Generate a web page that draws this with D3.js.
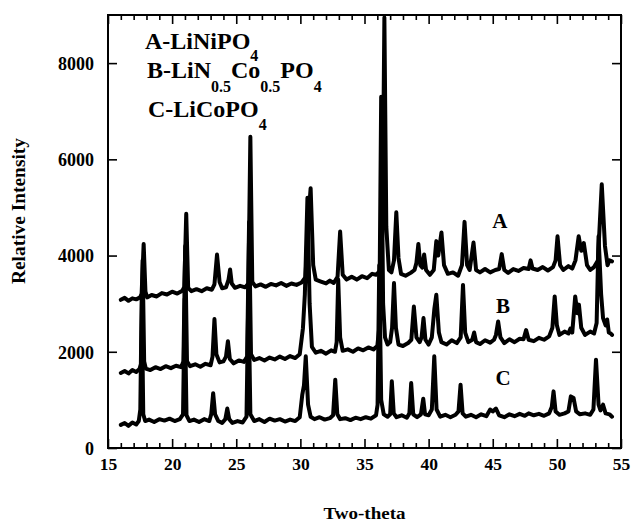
<!DOCTYPE html>
<html><head><meta charset="utf-8">
<script src="https://cdn.jsdelivr.net/npm/d3@7"></script>
<style>
body{margin:0;background:#fff;}
svg text{font-family:"Liberation Serif","Times New Roman",serif;font-weight:bold;fill:#000;}
</style></head>
<body>
<svg id="chart" width="632" height="524"></svg>
<script>
// ---- data (two-theta, intensity) ----
const xTicks = [15,20,25,30,35,40,45,50,55];
const yTicks = [0,2000,4000,6000,8000];
const seriesNames = ["A","B","C"];

const traceA = [[16.0,3080],[16.3,3120],[16.6,3060],[16.9,3110],[17.2,3090],[17.5,3130],[17.62,3200],[17.78,4240],[17.92,3250],[18.05,3130],[18.4,3180],[18.8,3150],[19.2,3220],[19.6,3190],[20.0,3250],[20.4,3210],[20.8,3270],[20.95,3350],[21.1,4870],[21.25,3330],[21.5,3260],[21.9,3300],[22.3,3260],[22.7,3320],[23.1,3290],[23.3,3400],[23.5,4020],[23.7,3450],[23.9,3320],[24.2,3340],[24.4,3500],[24.52,3710],[24.65,3420],[24.9,3330],[25.3,3370],[25.7,3340],[25.95,3420],[26.1,6470],[26.25,3450],[26.5,3360],[26.9,3400],[27.3,3350],[27.7,3410],[28.1,3380],[28.5,3430],[28.9,3370],[29.3,3420],[29.7,3390],[30.1,3440],[30.4,3550],[30.6,4700],[30.8,5400],[31.0,3800],[31.2,3500],[31.6,3460],[32.0,3420],[32.3,3480],[32.6,3430],[32.9,3560],[33.1,4500],[33.3,3600],[33.6,3500],[34.0,3560],[34.4,3500],[34.8,3570],[35.2,3530],[35.6,3620],[35.9,3600],[36.2,3680],[36.4,4500],[36.55,8950],[36.7,4600],[36.9,3700],[37.1,3650],[37.3,3900],[37.48,4900],[37.65,3950],[37.85,3620],[38.2,3580],[38.6,3640],[38.9,3700],[39.05,3850],[39.2,4240],[39.35,3800],[39.5,3750],[39.65,4020],[39.8,3700],[40.1,3600],[40.4,3700],[40.6,4300],[40.75,4000],[41.0,4480],[41.2,3800],[41.5,3620],[41.9,3650],[42.3,3580],[42.6,3800],[42.8,4700],[43.0,3800],[43.2,3700],[43.5,4270],[43.7,3700],[44.0,3650],[44.4,3720],[44.8,3650],[45.2,3700],[45.5,3720],[45.7,4030],[45.9,3700],[46.2,3640],[46.6,3720],[47.0,3680],[47.4,3740],[47.8,3720],[47.95,3900],[48.1,3730],[48.5,3700],[48.9,3760],[49.3,3690],[49.7,3760],[49.9,3900],[50.05,4400],[50.25,3800],[50.5,3700],[50.9,3780],[51.2,3730],[51.45,3900],[51.7,4400],[51.9,4100],[52.1,4260],[52.35,3800],[52.6,3700],[52.9,3760],[53.2,3900],[53.5,5480],[53.75,4200],[53.95,3800],[54.1,3900],[54.3,3880]];

const traceB = [[16.0,1560],[16.3,1600],[16.6,1550],[16.9,1620],[17.2,1580],[17.45,1640],[17.58,1750],[17.7,3900],[17.82,1800],[17.95,1650],[18.3,1620],[18.7,1680],[19.1,1640],[19.5,1700],[19.9,1660],[20.3,1710],[20.7,1680],[20.88,1800],[21.02,4200],[21.16,1800],[21.4,1700],[21.8,1740],[22.2,1690],[22.6,1750],[23.0,1720],[23.15,1900],[23.3,2680],[23.45,1950],[23.7,1780],[24.0,1800],[24.2,1900],[24.35,2220],[24.5,1850],[24.8,1760],[25.2,1820],[25.6,1790],[25.85,1900],[26.0,4700],[26.15,1950],[26.4,1830],[26.8,1870],[27.2,1820],[27.6,1880],[28.0,1840],[28.4,1900],[28.8,1850],[29.2,1910],[29.6,1870],[29.95,1950],[30.2,2490],[30.35,3200],[30.55,5200],[30.72,3000],[30.9,2100],[31.2,1980],[31.6,2020],[32.0,1960],[32.4,2030],[32.7,2000],[32.83,2200],[32.95,3500],[33.1,2300],[33.3,2020],[33.7,2050],[34.1,2000],[34.5,2070],[34.9,2030],[35.3,2090],[35.7,2050],[36.0,2120],[36.15,2500],[36.3,7300],[36.45,3000],[36.6,2300],[36.8,2150],[37.0,2200],[37.15,2500],[37.3,3430],[37.45,2500],[37.65,2150],[38.0,2120],[38.4,2180],[38.65,2250],[38.85,2940],[39.05,2300],[39.3,2200],[39.45,2300],[39.6,2700],[39.75,2250],[40.0,2150],[40.25,2300],[40.45,2900],[40.6,3185],[40.8,2400],[41.0,2200],[41.4,2150],[41.8,2240],[42.2,2180],[42.5,2300],[42.68,3390],[42.85,2400],[43.1,2200],[43.4,2250],[43.55,2400],[43.7,2200],[44.0,2160],[44.4,2240],[44.8,2190],[45.1,2250],[45.25,2350],[45.42,2630],[45.6,2300],[45.9,2180],[46.3,2260],[46.7,2200],[47.1,2270],[47.4,2260],[47.6,2450],[47.8,2250],[48.2,2220],[48.6,2290],[49.0,2250],[49.4,2320],[49.65,2500],[49.83,3150],[50.0,2550],[50.2,2350],[50.6,2420],[50.9,2380],[51.05,2480],[51.2,2400],[51.43,3150],[51.6,2800],[51.72,2980],[51.9,2500],[52.2,2350],[52.6,2420],[52.9,2380],[53.1,2600],[53.25,4400],[53.45,3200],[53.6,2700],[53.8,2550],[53.92,2670],[54.05,2400],[54.2,2380],[54.3,2350]];

const traceC = [[16.0,480],[16.3,520],[16.6,460],[16.9,530],[17.2,490],[17.4,560],[17.52,800],[17.63,3200],[17.75,700],[17.9,560],[18.2,590],[18.6,540],[19.0,600],[19.4,570],[19.8,610],[20.2,560],[20.6,600],[20.85,700],[20.98,3100],[21.12,680],[21.35,560],[21.7,590],[22.1,540],[22.5,600],[22.9,560],[23.05,700],[23.2,1140],[23.35,700],[23.6,560],[23.9,520],[24.15,600],[24.3,820],[24.45,600],[24.7,520],[25.1,560],[25.5,530],[25.8,650],[25.95,3300],[26.1,700],[26.4,560],[26.8,600],[27.2,540],[27.6,610],[28.0,570],[28.4,600],[28.8,550],[29.2,590],[29.6,560],[29.95,640],[30.15,1110],[30.28,1300],[30.42,1905],[30.6,900],[30.8,650],[31.1,600],[31.5,640],[31.9,590],[32.3,620],[32.55,680],[32.72,1420],[32.88,700],[33.1,600],[33.5,620],[33.9,580],[34.3,630],[34.7,600],[35.1,640],[35.5,610],[35.9,680],[36.02,900],[36.15,3800],[36.3,1000],[36.5,700],[36.8,650],[37.0,700],[37.13,1385],[37.28,720],[37.5,640],[37.9,680],[38.3,630],[38.5,720],[38.64,1350],[38.8,700],[39.1,640],[39.4,700],[39.58,1025],[39.72,700],[40.0,680],[40.25,800],[40.44,1905],[40.62,800],[40.9,650],[41.3,690],[41.7,640],[42.1,690],[42.33,760],[42.49,1316],[42.65,720],[42.9,650],[43.3,690],[43.7,640],[44.1,700],[44.5,660],[44.8,800],[45.0,760],[45.25,820],[45.5,680],[45.9,640],[46.3,700],[46.7,660],[47.1,710],[47.5,670],[47.8,720],[48.2,680],[48.6,710],[49.0,670],[49.4,720],[49.6,850],[49.74,1177],[49.9,760],[50.2,690],[50.6,720],[50.9,760],[51.09,1073],[51.3,1040],[51.5,760],[51.8,700],[52.2,720],[52.6,690],[52.85,800],[53.05,1835],[53.25,900],[53.4,780],[53.6,900],[53.8,720],[54.1,700],[54.3,650]];

const labelPos = [[45.55,4580],[45.8,2810],[45.8,1310]]; // where series letters sit (data coords)

// ---- drawing ----
const svg = d3.select("#chart");
const L = 108, R = 621, T = 15, B = 448;
const x = d3.scaleLinear().domain([15,55]).range([L,R]);
const y = d3.scaleLinear().domain([0,9000]).range([B,T]);

const line = d3.line().x(d=>x(d[0])).y(d=>y(d[1]));
[traceA,traceB,traceC].forEach(tr=>{
  svg.append("path").attr("d", line(tr)).attr("fill","none")
    .attr("stroke","#000").attr("stroke-width",4)
    .attr("stroke-linejoin","round").attr("stroke-linecap","round");
});

const minorX = d3.range(16,55).filter(v=>v%5!==0);
function styleAxis(g){ g.select(".domain").remove(); g.selectAll(".tick line").attr("stroke","#000").attr("stroke-width",1.6); }

// bottom
svg.append("g").attr("transform",`translate(0,${B})`)
  .call(d3.axisBottom(x).tickValues(xTicks).tickSize(-9).tickPadding(22).tickFormat(d3.format("d")))
  .call(styleAxis).call(g=>g.selectAll("text").attr("font-size",17.5).attr("dy","0"));
svg.append("g").attr("transform",`translate(0,${B})`)
  .call(d3.axisBottom(x).tickValues(minorX).tickSize(-5).tickFormat("")).call(styleAxis);
// top
svg.append("g").attr("transform",`translate(0,${T})`)
  .call(d3.axisTop(x).tickValues(xTicks).tickSize(-9).tickFormat("")).call(styleAxis);
svg.append("g").attr("transform",`translate(0,${T})`)
  .call(d3.axisTop(x).tickValues(minorX).tickSize(-5).tickFormat("")).call(styleAxis);
// left
svg.append("g").attr("transform",`translate(${L},0)`)
  .call(d3.axisLeft(y).tickValues(yTicks).tickSize(-9).tickPadding(14).tickFormat(d3.format("d")))
  .call(styleAxis).call(g=>g.selectAll("text").attr("font-size",18).attr("dy","0.35em"));
// right
svg.append("g").attr("transform",`translate(${R},0)`)
  .call(d3.axisRight(y).tickValues(yTicks).tickSize(-9).tickFormat("")).call(styleAxis);

svg.append("rect").attr("x",L).attr("y",T).attr("width",R-L).attr("height",B-T)
  .attr("fill","none").attr("stroke","#000").attr("stroke-width",2);

// axis titles
svg.append("text").attr("x",(L+R)/2).attr("y",519).attr("text-anchor","middle")
  .attr("font-size",17).attr("textLength",82).attr("lengthAdjust","spacingAndGlyphs").text("Two-theta");
svg.append("text").attr("transform","translate(25,211) rotate(-90)").attr("text-anchor","middle")
  .attr("font-size",18).attr("textLength",146).attr("lengthAdjust","spacingAndGlyphs").text("Relative Intensity");

// series letters
seriesNames.forEach((n,i)=>{
  svg.append("text").attr("x",x(labelPos[i][0])).attr("y",y(labelPos[i][1]))
    .attr("text-anchor","middle").attr("font-size",21).text(n);
});

// legend text with subscripts
const leg = svg.append("g").attr("font-size",24);
const tA = leg.append("text").attr("x",145).attr("y",49);
tA.append("tspan").text("A-LiNiPO");
tA.append("tspan").attr("font-size",16).attr("dy",12).text("4");

const tB = leg.append("text").attr("x",147).attr("y",78);
tB.append("tspan").text("B-LiN");
tB.append("tspan").attr("font-size",16).attr("dy",14).text("0.5");
tB.append("tspan").attr("dy",-14).text("Co");
tB.append("tspan").attr("font-size",16).attr("dy",14).text("0.5");
tB.append("tspan").attr("dy",-14).text("PO");
tB.append("tspan").attr("font-size",16).attr("dy",14).text("4");

const tC = leg.append("text").attr("x",148).attr("y",117);
tC.append("tspan").text("C-LiCoPO");
tC.append("tspan").attr("font-size",16).attr("dy",13).text("4");
</script>
</body></html>
